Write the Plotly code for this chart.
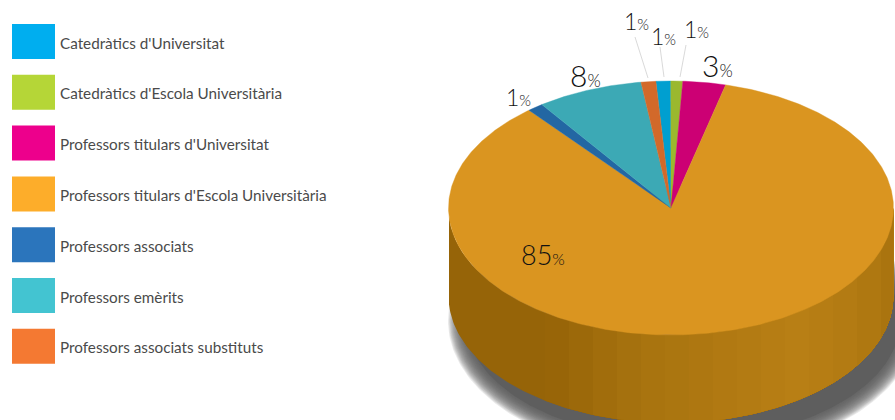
import numpy as np
import plotly.graph_objects as go

categories = ["Catedràtics d'Universitat", "Catedràtics d'Escola Universitària",
              "Professors titulars d'Universitat", "Professors titulars d'Escola Universitària",
              "Professors associats", "Professors emèrits", "Professors associats substituts"]
values = [1.07, 0.86, 3.1, 85.0, 1.16, 7.7, 1.07]
value_labels = ["1", "1", "3", "85", "1", "8", "1"]
legend_colors = ["#00aeef", "#b5d637", "#ed008c", "#fdad2a", "#2b75bc", "#43c4d1", "#f47932"]
slice_colors = ["#009fd0", "#9bb82e", "#cc0074", "#da9520", "#2367a3", "#3ca9b5", "#d2692a"]

# ---- style / geometry ----
CX, CY, RX, RY, DEPTH = 671.0, 208.0, 222.5, 127.0, 88.0
START_DEG = -3.9
FONT = "Lato"
TEXT = "#4a4a4a"
label_pos = [(663, 36), (696, 29), (717, 65), (543, 254), (518, 97), (585, 75), (636, 21)]
leaders = {0: ((660, 47), (664, 77)), 1: ((686, 45), (680, 77)), 6: ((635, 37), (648, 78))}
label_sizes = [(23, 15), (23, 15), (30, 17), (27, 16), (23, 15), (30, 17), (23, 15)]


def pt(deg, cx=CX, cy=CY, rx=RX, ry=RY):
    a = np.radians(deg)
    return cx + rx * np.sin(a), cy - ry * np.cos(a)


fig = go.Figure()


def poly(x, y, color, line=0.0):
    fig.add_trace(go.Scatter(x=x, y=y, mode="lines", fill="toself", fillcolor=color,
                             line=dict(color=color, width=line), hoverinfo="skip", showlegend=False))


# blurred drop shadow
deg = np.linspace(0, 360, 361)
for b in np.linspace(10, -8, 19):
    x, y = pt(deg, 683, 321, 225 + b, RY + b)
    poly(x, y, "rgba(94,94,94,0.13)" if b > -8 else "rgb(94,94,94)")

# side wall: bands painted left to right, each one covering everything to its right,
# so that no seam can show between neighbours
stops_x = [449, 545, 640, 800, 862, 895]
stops_rgb = np.array([[150, 100, 8], [150, 100, 8], [168, 115, 15], [185, 128, 22], [178, 122, 19], [168, 115, 14]])
band_edges = np.r_[449, np.arange(545, 895, 24), 894]
for x0, x1 in zip(band_edges[:-1], band_edges[1:]):
    start = 180 + np.degrees(np.arcsin(np.clip((CX - x0) / RX, -1, 1)))
    t = np.linspace(start, 90, 200)
    xt, yt = pt(t)
    mid = (x0 + x1) / 2
    rgb = [int(np.interp(mid, stops_x, stops_rgb[:, i])) for i in range(3)]
    c = "rgb(%d,%d,%d)" % tuple(rgb)
    poly(np.r_[xt, xt[::-1]], np.r_[yt, yt[::-1] + DEPTH], c, 0)

# top face
angles = START_DEG + np.r_[0, np.cumsum(values)] / sum(values) * 360
for i in range(len(values)):
    t = np.linspace(angles[i], angles[i + 1], max(6, int(values[i] * 6)))
    xt, yt = pt(t)
    poly(np.r_[CX, xt, CX], np.r_[CY, yt, CY], slice_colors[i], 0.4)

# leader lines
for i, (p, q) in leaders.items():
    fig.add_trace(go.Scatter(x=[p[0], q[0]], y=[p[1], q[1]], mode="lines",
                             line=dict(color="#c9c9c9", width=0.7), hoverinfo="skip", showlegend=False))

shapes = []
annotations = []
for i, name in enumerate(categories):
    top = 24 + i * 50.8
    shapes.append(dict(type="rect", xref="x", yref="y", x0=12, x1=55, y0=top, y1=top + 35,
                       fillcolor=legend_colors[i], line=dict(width=0), layer="above"))
    annotations.append(dict(x=58, y=top + 18.5, xref="x", yref="y", text=name, showarrow=False,
                            xanchor="left", yanchor="middle",
                            font=dict(family=FONT, size=15.25, color=TEXT)))

for i, lab in enumerate(value_labels):
    big, small = label_sizes[i]
    annotations.append(dict(x=label_pos[i][0], y=label_pos[i][1], xref="x", yref="y", showarrow=False,
                            xanchor="center", yanchor="middle",
                            text=f'<span style="font-size:{big}px">{lab}</span><span style="font-size:{small}px">%</span>',
                            font=dict(family=FONT, size=small, color="#111111", weight=300)))

fig.update_layout(width=895, height=420, margin=dict(l=0, r=0, t=0, b=0),
                  paper_bgcolor="white", plot_bgcolor="white", showlegend=False,
                  xaxis=dict(range=[0, 895], visible=False, fixedrange=True),
                  yaxis=dict(range=[420, 0], visible=False, fixedrange=True),
                  shapes=shapes, annotations=annotations)

fig.write_html("out.html", config=dict(displayModeBar=False),
               post_script="document.body.style.margin='0';")
